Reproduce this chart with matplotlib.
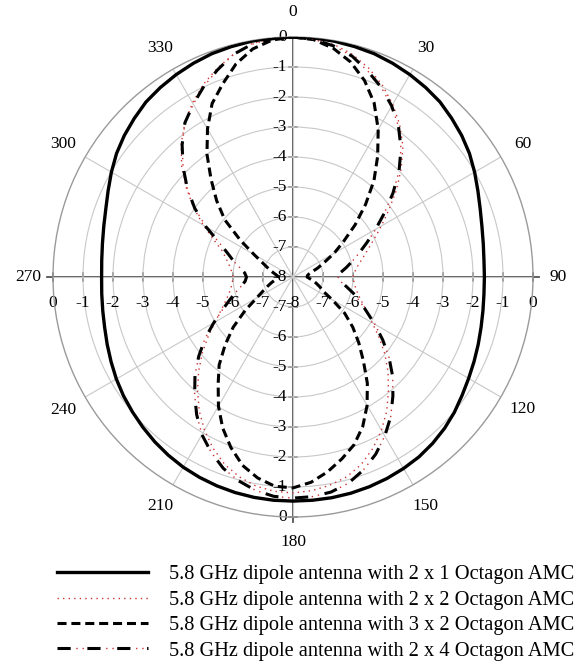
import numpy as np
import matplotlib.pyplot as plt
from matplotlib.legend_handler import HandlerTuple

plt.rcParams['font.family'] = ['Liberation Serif', 'DejaVu Serif']
plt.rcParams['lines.scale_dashes'] = False

# radiation pattern, normalised gain in dB every 5 degrees (one row = 60 deg)
angles = np.arange(0, 360, 5)
gain_2x1 = [0, 0, -0.02, -0.05, -0.08, -0.14, -0.21, -0.29, -0.38, -0.52, -0.66, -0.82,
            -1.01, -1.2, -1.36, -1.48, -1.56, -1.61, -1.62, -1.61, -1.57, -1.51, -1.43, -1.34,
            -1.24, -1.12, -0.98, -0.86, -0.76, -0.68, -0.63, -0.59, -0.56, -0.54, -0.53, -0.53,
            -0.53, -0.53, -0.54, -0.56, -0.59, -0.63, -0.68, -0.75, -0.83, -0.92, -1.01, -1.1,
            -1.2, -1.31, -1.41, -1.5, -1.56, -1.6, -1.62, -1.6, -1.55, -1.47, -1.36, -1.2,
            -1.01, -0.82, -0.66, -0.52, -0.38, -0.29, -0.21, -0.14, -0.08, -0.05, -0.02, 0]
gain_2x2 = [0, -0.04, -0.13, -0.32, -0.6, -0.95, -1.35, -1.8, -2.3, -2.9, -3.5, -4.1,
            -4.6, -5.02, -5.35, -5.6, -5.8, -5.93, -6.0, -5.96, -5.88, -5.75, -5.55, -5.28,
            -4.95, -4.5, -4.0, -3.52, -3.05, -2.55, -2.1, -1.7, -1.35, -1.1, -0.95, -0.85,
            -0.8, -0.83, -0.92, -1.1, -1.35, -1.7, -2.1, -2.55, -3.05, -3.55, -4.05, -4.55,
            -5.0, -5.35, -5.6, -5.78, -5.9, -5.97, -6.0, -5.95, -5.85, -5.7, -5.5, -5.1,
            -4.55, -3.95, -3.35, -2.75, -2.2, -1.72, -1.3, -0.92, -0.6, -0.32, -0.1, -0.02]
gain_3x2 = [0, -0.06, -0.26, -0.58, -1.03, -1.6, -2.32, -3.08, -3.8, -4.58, -5.3, -5.95,
            -6.42, -6.85, -7.12, -7.35, -7.47, -7.52, -7.53, -7.45, -7.32, -7.2, -7.05, -6.9,
            -6.5, -5.9, -5.4, -4.9, -4.35, -3.68, -3.06, -2.5, -2.05, -1.72, -1.4, -1.13,
            -0.97, -1.0, -1.2, -1.5, -1.95, -2.45, -3.03, -3.65, -4.17, -4.8, -5.4, -6.05,
            -6.6, -6.9, -7.1, -7.25, -7.38, -7.47, -7.5, -7.47, -7.38, -7.25, -7.1, -6.88,
            -6.5, -5.85, -5.03, -4.4, -3.75, -3.0, -2.3, -1.62, -1.15, -0.65, -0.28, -0.07]
gain_2x4 = [0, -0.05, -0.18, -0.38, -0.7, -1.03, -1.42, -1.87, -2.4, -3.0, -3.65, -4.28,
            -4.82, -5.28, -5.65, -5.95, -6.2, -6.42, -6.5, -6.42, -6.2, -5.92, -5.62, -5.3,
            -4.85, -4.35, -3.82, -3.3, -2.82, -2.32, -1.88, -1.48, -1.15, -0.88, -0.72, -0.65,
            -0.63, -0.66, -0.78, -0.97, -1.21, -1.55, -1.93, -2.4, -2.9, -3.38, -3.9, -4.42,
            -4.95, -5.4, -5.75, -6.02, -6.25, -6.4, -6.45, -6.38, -6.2, -5.95, -5.68, -5.28,
            -4.65, -4.0, -3.4, -2.82, -2.25, -1.72, -1.35, -0.98, -0.65, -0.32, -0.12, -0.03]
series_labels = [
    '5.8 GHz dipole antenna with 2 x 1 Octagon AMC',
    '5.8 GHz dipole antenna with 2 x 2 Octagon AMC',
    '5.8 GHz dipole antenna with 3 x 2 Octagon AMC',
    '5.8 GHz dipole antenna with 2 x 4 Octagon AMC',
]
r_min, r_max = -8, 0
theta_ticks = np.arange(0, 360, 30)


def closed(values):
    th = np.deg2rad(np.append(angles, 360))
    return th, np.append(values, values[0])


FS = 12.5
fig = plt.figure(figsize=(5.86, 6.61), dpi=100)
ax = fig.add_axes([53 / 586, 144 / 661, 480 / 586, 480 / 661], projection='polar')
ax.set_theta_zero_location('N')
ax.set_theta_direction(-1)
ax.set_ylim(r_min, r_max)

ax.set_thetagrids(theta_ticks, labels=[str(a) for a in theta_ticks], fontsize=FS)
ax.set_yticks(np.arange(r_min + 1, r_max))
ax.set_yticklabels([])
ax.grid(color='#c8c8c8', lw=0.8)
ax.spines['polar'].set_color('#9a9a9a')
ax.spines['polar'].set_linewidth(1.0)
ax.tick_params(axis='x', pad=6, length=5, color='#333333')
ax.tick_params(axis='y', length=0)

# axis cross with dB scale, drawn in axes fractions
T = ax.transAxes
span = r_max - r_min
ax.plot([0.5, 0.5], [-0.01, 1.0], transform=T, color='#555555', lw=1.3,
        clip_on=False, zorder=1.5)
ax.plot([-0.012, 1.012], [0.5, 0.5], transform=T, color='#555555', lw=1.3,
        clip_on=False, zorder=1.5)
tick = 4 / 480
for v in range(r_min, r_max + 1):
    s = (v - r_min) / span / 2
    for sign in (1, -1):
        ax.plot([0.5 - tick, 0.5 + tick], [0.5 + sign * s] * 2, transform=T,
                color='#555555', lw=1.1, clip_on=False, zorder=1.5)
        ax.plot([0.5 + sign * s] * 2, [0.5 - tick, 0.5 + tick], transform=T,
                color='#555555', lw=1.1, clip_on=False, zorder=1.5)
        if s == 0 and sign == -1:
            continue
        ax.text(0.5 - 6 / 480, 0.5 + sign * s, str(v), transform=T,
                ha='right', va='center', fontsize=FS, zorder=2)
        ax.text(0.5 + sign * s, 0.5 - 26 / 480, str(v), transform=T,
                ha='center', va='center', fontsize=FS, zorder=2)

l1, = ax.plot(*closed(gain_2x1), color='black', lw=2.4, zorder=5)
l2, = ax.plot(*closed(gain_2x2), color='#cc3333', lw=1.0,
              linestyle=(0, (1, 3)), zorder=4)
l3, = ax.plot(*closed(gain_3x2), color='black', lw=2.2,
              linestyle=(0, (6.5, 3.5)), zorder=4)
l4a, = ax.plot(*closed(gain_2x4), color='black', lw=2.2,
               linestyle=(0, (9.5, 12)), zorder=4)
l4b, = ax.plot(*closed(gain_2x4), color='#cc3333', lw=1.0,
               linestyle=(8, (1, 3.5, 1, 16)), zorder=4)

fig.legend([l1, l2, l3, (l4a, l4b)], series_labels,
           handler_map={tuple: HandlerTuple(ndivide=1)},
           loc='upper left', bbox_to_anchor=(57 / 586, 1 - 565 / 661),
           frameon=False, fontsize=14.7, handlelength=4.45, handletextpad=1.05,
           labelspacing=0.3, borderaxespad=0, borderpad=0)

fig.savefig('out.png', dpi=100, facecolor='white')
